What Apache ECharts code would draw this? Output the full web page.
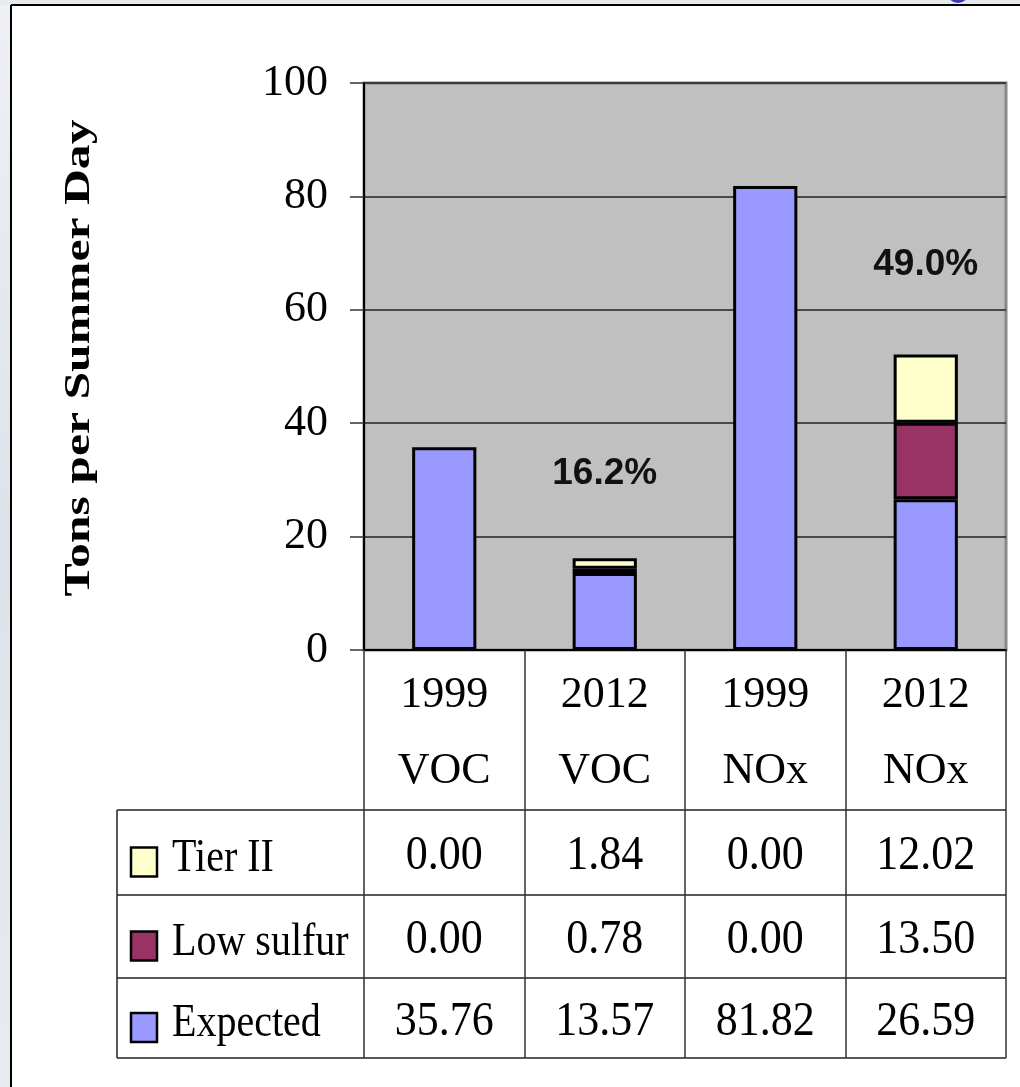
<!DOCTYPE html>
<html>
<head>
<meta charset="utf-8">
<script src="https://cdn.jsdelivr.net/npm/echarts@6/dist/echarts.min.js"></script>
<style>
  html, body { margin: 0; padding: 0; background: #fff; }
  #main { width: 1020px; height: 1087px; }
</style>
</head>
<body>
<div id="main"></div>
<script type="text/javascript">
// 数据
var categories = ['1999\nVOC', '2012\nVOC', '1999\nNOx', '2012\nNOx'];
var seriesNames = ['Tier II', 'Low sulfur', 'Expected'];
var tierII = [0.00, 1.84, 0.00, 12.02];
var lowSulfur = [0.00, 0.78, 0.00, 13.50];
var expected = [35.76, 13.57, 81.82, 26.59];
var colors = ['#ffffcc', '#993366', '#9999ff'];
var yTicks = [0, 20, 40, 60, 80, 100];
var pctText = ['16.2%', '49.0%'];
var pctAt = [[1, 31], [3, 68]];

var serif = 'Liberation Serif, Times New Roman, serif';
var rows = [tierII, lowSulfur, expected];

function noZero(arr) {
    return arr.map(function (v) { return v === 0 ? '-' : v; });
}

var myChart = echarts.init(document.getElementById('main'));

var option = {
    backgroundColor: '#fff',
    animation: false,
    grid: {
        left: 364, right: 14, top: 83, bottom: 437,
        show: true, backgroundColor: '#c0c0c0',
        borderColor: '#888', borderWidth: 3
    },
    xAxis: {
        type: 'category',
        data: categories,
        axisLine: { lineStyle: { color: '#000', width: 2 } },
        axisTick: { show: true, length: 408, lineStyle: { color: '#333', width: 1.5 } },
        axisLabel: {
            fontFamily: serif, fontSize: 44, color: '#000',
            lineHeight: 76, margin: 7
        }
    },
    yAxis: {
        type: 'value',
        min: 0, max: 100, interval: 20,
        axisLine: { show: true, lineStyle: { color: '#000', width: 2 } },
        axisTick: { show: true, length: 14, lineStyle: { color: '#333', width: 1.5 } },
        axisLabel: {
            fontFamily: serif, fontSize: 44, color: '#000', margin: 36,
            formatter: function (v) { return yTicks.indexOf(v) >= 0 ? String(v) : ''; }
        },
        splitLine: { lineStyle: { color: '#222', width: 1.5 } }
    },
    series: [
        {
            name: seriesNames[2], type: 'bar', stack: 'a', barWidth: '40%',
            data: noZero(expected),
            itemStyle: { color: colors[2], borderColor: '#000', borderWidth: 3 }
        },
        {
            name: seriesNames[1], type: 'bar', stack: 'a', barWidth: '40%',
            data: noZero(lowSulfur),
            itemStyle: { color: colors[1], borderColor: '#000', borderWidth: 3 }
        },
        {
            name: seriesNames[0], type: 'bar', stack: 'a', barWidth: '40%',
            data: noZero(tierII),
            itemStyle: { color: colors[0], borderColor: '#000', borderWidth: 3 },
            markPoint: {
                symbol: 'circle', symbolSize: 0,
                label: {
                    show: true, position: 'inside', formatter: '{b}',
                    fontFamily: 'Liberation Sans, Arial, sans-serif',
                    fontWeight: 'bold', fontSize: 37, color: '#111'
                },
                data: pctText.map(function (t, i) {
                    return { name: t, coord: pctAt[i] };
                })
            }
        }
    ]
};
myChart.setOption(option);

// 数据表格（图表下方）
var tLeft = 117, tRight = 1006;
var rowLines = [810, 895, 978, 1058];
var g = [];

// 页面边框
g.push({ type: 'rect', shape: { x: 0, y: 0, width: 11, height: 1087 },
    style: { fill: new echarts.graphic.LinearGradient(0, 0, 0, 1, [
        { offset: 0, color: '#eef0f4' }, { offset: 0.5, color: '#dde2ea' }, { offset: 1, color: '#e8ebf0' }]) } });
g.push({ type: 'rect', shape: { x: 0, y: 0, width: 1020, height: 5 }, style: { fill: '#e6e9ee' } });
g.push({ type: 'circle', shape: { cx: 958, cy: -8, r: 11 }, style: { fill: '#3a3ab0' } });
g.push({ type: 'line', shape: { x1: 11, y1: 5, x2: 1020, y2: 5 }, style: { stroke: '#000', lineWidth: 2 } });
g.push({ type: 'line', shape: { x1: 11, y1: 5, x2: 11, y2: 1087 }, style: { stroke: '#000', lineWidth: 2 } });

rowLines.forEach(function (y) {
    g.push({ type: 'line', shape: { x1: tLeft, y1: y, x2: tRight, y2: y },
        style: { stroke: '#222', lineWidth: 1.5 } });
});
g.push({ type: 'line', shape: { x1: tLeft, y1: rowLines[0], x2: tLeft, y2: rowLines[3] },
    style: { stroke: '#222', lineWidth: 1.5 } });

for (var r = 0; r < 3; r++) {
    var cy = (rowLines[r] + rowLines[r + 1]) / 2;
    g.push({ type: 'rect', shape: { x: 131, y: cy - 5, width: 26, height: 29 },
        style: { fill: colors[r], stroke: '#000', lineWidth: 2.5 } });
    g.push({ type: 'text', x: 172, y: cy + 6, scaleY: 1.15,
        style: { text: seriesNames[r], fontFamily: serif, fontSize: 40,
            fill: '#000', textAlign: 'left', textVerticalAlign: 'middle' } });
    for (var c = 0; c < categories.length; c++) {
        var px = myChart.convertToPixel({ xAxisIndex: 0 }, c);
        g.push({ type: 'text', x: px, y: cy + 4, scaleY: 1.12,
            style: { text: rows[r][c].toFixed(2), fontFamily: serif, fontSize: 44,
                fill: '#000', textAlign: 'center', textVerticalAlign: 'middle' } });
    }
}

// 纵轴标题
g.push({ type: 'text', x: 80, y: 358, rotation: Math.PI / 2, scaleX: 1.38,
    style: { text: 'Tons per Summer Day', fontFamily: serif, fontWeight: 'bold',
        fontSize: 36, fill: '#000', textAlign: 'center', textVerticalAlign: 'middle' } });

myChart.setOption({ graphic: g });
</script>
</body>
</html>
